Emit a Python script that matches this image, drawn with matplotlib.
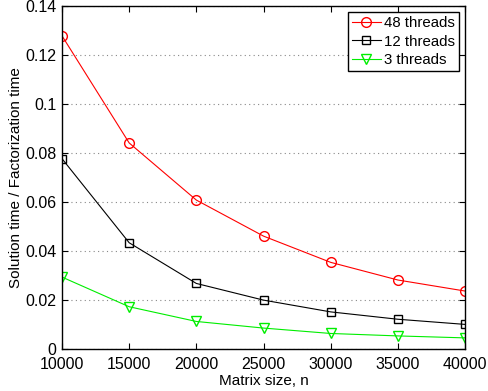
import matplotlib
matplotlib.use("Agg")
import matplotlib.pyplot as plt

plt.rcParams['font.family'] = ['Liberation Sans', 'DejaVu Sans']

sizes = [10000, 15000, 20000, 25000, 30000, 35000, 40000]
ratio_48 = [0.1278, 0.0841, 0.0608, 0.0461, 0.0354, 0.0282, 0.0237]
ratio_12 = [0.0777, 0.0434, 0.0268, 0.0200, 0.0152, 0.0122, 0.0101]
ratio_3 = [0.0294, 0.0173, 0.0113, 0.0086, 0.0064, 0.0054, 0.0046]
x_ticks = [10000, 15000, 20000, 25000, 30000, 35000, 40000]
y_ticks = [0, 0.02, 0.04, 0.06, 0.08, 0.1, 0.12, 0.14]
y_tick_labels = ['0', '0.02', '0.04', '0.06', '0.08', '0.1', '0.12', '0.14']

fig = plt.figure(figsize=(4.88, 3.91), dpi=100)
ax = fig.add_axes([0.127, 0.107, 0.826, 0.878])

lw = 0.8
ax.plot(sizes, ratio_48, color='#ff0000', marker='o', markersize=7,
        markerfacecolor='none', lw=lw, label='48 threads')
ax.plot(sizes, ratio_12, color='black', marker='s', markersize=5.5,
        markerfacecolor='none', lw=lw, label='12 threads')
ax.plot(sizes, ratio_3, color='#00ee00', marker='v', markersize=7,
        markerfacecolor='none', lw=lw, label='3 threads')

ax.set_xlim(10000, 40000)
ax.set_ylim(0, 0.14)
ax.set_xticks(x_ticks)
ax.set_xticklabels([str(v) for v in x_ticks])
ax.set_yticks(y_ticks)
ax.set_yticklabels(y_tick_labels)
ax.tick_params(direction='in', top=True, right=True, labelsize=11.5,
               length=4, width=0.8)
ax.tick_params(axis='x', pad=6)
ax.tick_params(axis='y', pad=4)
ax.yaxis.grid(True, linestyle=(0, (1, 3)), color='#888888', lw=0.8)
for s in ax.spines.values():
    s.set_linewidth(1.0)

ax.set_xlabel('Matrix size, n', fontsize=11, labelpad=1)
ax.set_ylabel('Solution time / Factorization time', fontsize=11, labelpad=1.5)

leg = ax.legend(loc='upper right', fontsize=10.8, fancybox=False,
                framealpha=1, edgecolor='black', handlelength=1.9,
                handletextpad=0.2, borderpad=0.3, labelspacing=0.28,
                borderaxespad=0.4)
leg.get_frame().set_linewidth(1.0)

fig.savefig('out.png', dpi=100)
